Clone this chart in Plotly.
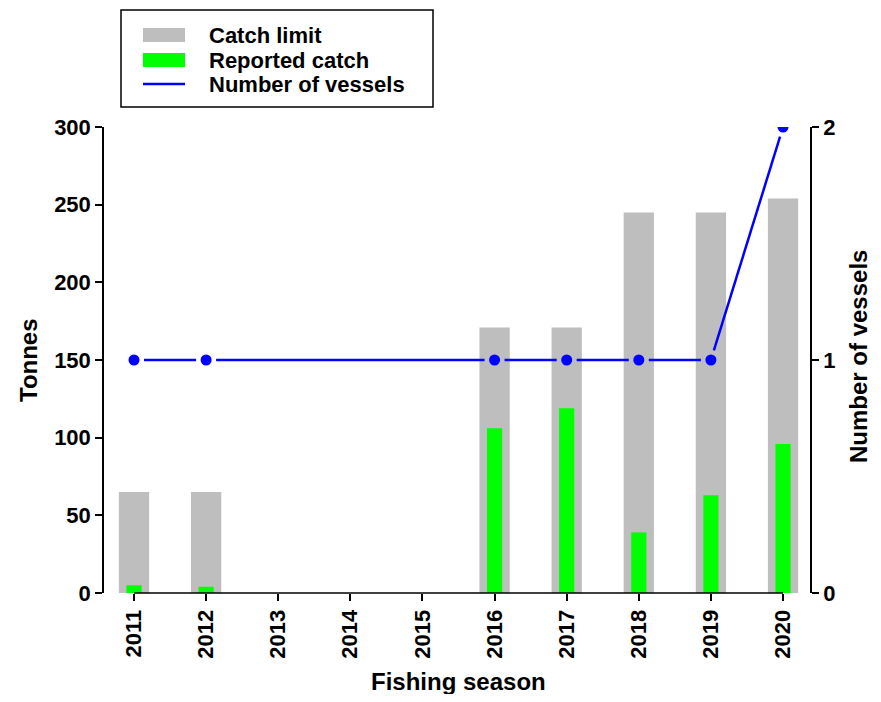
import plotly.graph_objects as go

years = [2011, 2012, 2013, 2014, 2015, 2016, 2017, 2018, 2019, 2020]
catch_limit = [65, 65, None, None, None, 171, 171, 245, 245, 254]
reported_catch = [5, 4, None, None, None, 106, 119, 39, 63, 96]
vessels = [1, 1, None, None, None, 1, 1, 1, 1, 2]
legend_labels = ["Catch limit", "Reported catch", "Number of vessels"]

OFF = 8  # default page body margin in the browser
W, H = 881 - 2 * OFF, 702 - 2 * OFF  # fit in the window without scrollbars
L, T = 104 - OFF, 127 - OFF
pw, ph = 706, 466
R = W - L - pw
B = H - T - ph
XR = [2010.584, 2020.374]
Y2R = [0, 2]

FONT = "Liberation Sans, Arial, sans-serif"
fs_tick = 22
fs_lab = 24
fs_leg = 22
GREY, GREEN, BLUE = "#BEBEBE", "#00FF00", "#0000FF"

fig = go.Figure()
fig.add_trace(go.Bar(x=years, y=catch_limit, width=0.42, marker=dict(color=GREY, line=dict(width=0)),
                     name=legend_labels[0], showlegend=False))
fig.add_trace(go.Bar(x=years, y=reported_catch, width=0.21, marker=dict(color=GREEN, line=dict(width=0)),
                     name=legend_labels[1], showlegend=False))

# R type="b" style line: segments between points, shortened near each point
gap = 10.0
pts = [(x, v) for x, v in zip(years, vessels) if v is not None]
lx, ly = [], []
for (xa, ya), (xb, yb) in zip(pts[:-1], pts[1:]):
    pxa = (xa - XR[0]) / (XR[1] - XR[0]) * pw
    pxb = (xb - XR[0]) / (XR[1] - XR[0]) * pw
    pya = (ya - Y2R[0]) / (Y2R[1] - Y2R[0]) * ph
    pyb = (yb - Y2R[0]) / (Y2R[1] - Y2R[0]) * ph
    d = ((pxb - pxa) ** 2 + (pyb - pya) ** 2) ** 0.5
    ux, uy = (pxb - pxa) / d, (pyb - pya) / d
    s = (pxa + ux * gap, pya + uy * gap)
    e = (pxb - ux * gap, pyb - uy * gap)
    for p in (s, e):
        lx.append(XR[0] + p[0] / pw * (XR[1] - XR[0]))
        ly.append(Y2R[0] + p[1] / ph * (Y2R[1] - Y2R[0]))
    lx.append(None)
    ly.append(None)

fig.add_trace(go.Scatter(x=lx, y=ly, yaxis="y2", mode="lines",
                         line=dict(color=BLUE, width=2.5), showlegend=False, hoverinfo="skip"))
fig.add_trace(go.Scatter(x=years, y=vessels, yaxis="y2", mode="markers",
                         marker=dict(color=BLUE, size=11), name=legend_labels[2], showlegend=False))


def px_x(p):
    return (p - OFF - L) / pw


def px_y(p):
    return (H - B - (p - OFF)) / ph


tick_common = dict(ticks="outside", ticklen=7, tickwidth=1.5, tickcolor="black",
                   showgrid=False, zeroline=False,
                   tickfont=dict(family=FONT, size=fs_tick, weight="bold", color="black"))

fig.update_layout(
    width=W, height=H,
    margin=dict(l=L, r=R, t=T, b=B, autoexpand=False),
    barmode="overlay",
    plot_bgcolor="white", paper_bgcolor="white",
    font=dict(family=FONT, size=fs_lab, color="black"),
    showlegend=False,
    xaxis=dict(range=XR, tickmode="array", tickvals=years,
               ticktext=[str(y) for y in years], tickangle=-90,
               showline=False, automargin=False, **tick_common),
    yaxis=dict(range=[0, 300], tickvals=[0, 50, 100, 150, 200, 250, 300],
               showline=True, linecolor="black", linewidth=1.5, automargin=False, **tick_common),
    yaxis2=dict(range=Y2R, tickvals=[0, 1, 2], overlaying="y", side="right",
                showline=True, linecolor="black", linewidth=1.5, automargin=False, **tick_common),
)

# R-style x axis line spanning first to last tick
fig.add_shape(type="line", xref="x", yref="paper", x0=years[0], x1=years[-1], y0=0, y1=0,
              line=dict(color="black", width=1.5))

# Axis titles
ann_c = dict(xref="paper", yref="paper", showarrow=False, xanchor="center", yanchor="middle")
fig.add_annotation(text="Tonnes", x=px_x(28), y=px_y(360), textangle=-90,
                   font=dict(size=fs_lab, weight="bold"), **ann_c)
fig.add_annotation(text="Fishing season", x=px_x(458), y=px_y(681),
                   font=dict(size=fs_lab, weight="bold"), **ann_c)
fig.add_annotation(text="Number of vessels", x=px_x(858), y=px_y(357), textangle=-90,
                   font=dict(size=fs_lab, weight="bold"), **ann_c)

# Legend box (manual, R-style)
fig.add_shape(type="rect", xref="paper", yref="paper", x0=px_x(121), x1=px_x(433),
              y0=px_y(107), y1=px_y(10), line=dict(color="black", width=1.5), fillcolor="white")
row_y = [35, 60, 84]
fig.add_shape(type="rect", xref="paper", yref="paper", x0=px_x(143), x1=px_x(185),
              y0=px_y(row_y[0] + 7), y1=px_y(row_y[0] - 7), line=dict(width=0), fillcolor=GREY)
fig.add_shape(type="rect", xref="paper", yref="paper", x0=px_x(143), x1=px_x(185),
              y0=px_y(row_y[1] + 7), y1=px_y(row_y[1] - 7), line=dict(width=0), fillcolor=GREEN)
fig.add_shape(type="line", xref="paper", yref="paper", x0=px_x(143), x1=px_x(185),
              y0=px_y(row_y[2]), y1=px_y(row_y[2]), line=dict(color=BLUE, width=2.5))
for lab, ry in zip(legend_labels, row_y):
    fig.add_annotation(text=lab, x=px_x(207), y=px_y(ry), xref="paper", yref="paper",
                       xanchor="left", yanchor="middle", showarrow=False,
                       font=dict(size=fs_leg, weight="bold"))

fig.write_html("out.html")
